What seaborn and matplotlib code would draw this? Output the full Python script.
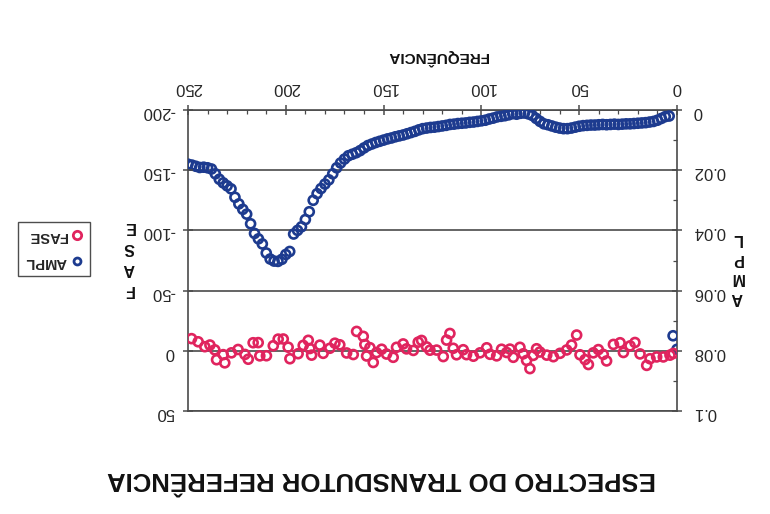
import matplotlib
matplotlib.use("Agg")
import matplotlib.pyplot as plt
from matplotlib.lines import Line2D
from matplotlib.ticker import MultipleLocator
import seaborn as sns

# ---- data -------------------------------------------------------------
# amplitude spectrum, sampled every 2 Hz from 0 to 250 Hz
ampl_freq = list(range(0, 251, 2))
ampl_vals = [
    0.0795, 0.0750,
    0.0020, 0.0022, 0.0028, 0.0034, 0.0038, 0.0040, 0.0042, 0.0043, 0.0044, 0.0045,
    0.0046, 0.0046, 0.0047, 0.0048, 0.0047, 0.0048, 0.0049, 0.0048, 0.0049, 0.0050,
    0.0050, 0.0051, 0.0052, 0.0054, 0.0057, 0.0060, 0.0062, 0.0062, 0.0060, 0.0057,
    0.0053, 0.0049, 0.0046, 0.0038, 0.0028, 0.0018, 0.0013, 0.0010, 0.0011, 0.0014,
    0.0012, 0.0016, 0.0019, 0.0021, 0.0023, 0.0027, 0.0030, 0.0034, 0.0036, 0.0038,
    0.0040, 0.0041, 0.0043, 0.0044, 0.0045, 0.0047, 0.0048, 0.0051, 0.0053, 0.0055,
    0.0057, 0.0058, 0.0060, 0.0062, 0.0066, 0.0071, 0.0075, 0.0079, 0.0083, 0.0086,
    0.0089, 0.0093, 0.0096, 0.0100, 0.0104, 0.0108, 0.0113, 0.0118, 0.0126, 0.0135,
    0.0142, 0.0147, 0.0152, 0.0163, 0.0176, 0.0192, 0.0212, 0.0232, 0.0246, 0.0261,
    0.0278, 0.0300, 0.0338, 0.0364, 0.0388, 0.0400, 0.0412, 0.0470, 0.0480, 0.0496,
    0.0503, 0.0502, 0.0495, 0.0475, 0.0445, 0.0428, 0.0410, 0.0378, 0.0346, 0.0330,
    0.0312, 0.0290, 0.0262, 0.0252, 0.0242, 0.0230, 0.0212, 0.0196, 0.0192, 0.0190,
    0.0191, 0.0187, 0.0183, 0.0180,
]

# phase spectrum (degrees)
fase_freq = [
    248.2, 244.8, 241.4, 238.8, 236.3, 235.4, 232.0, 231.2, 227.8, 224.4,
    220.9, 219.2, 216.7, 214.1, 213.3, 209.9, 206.4, 203.9, 201.3, 198.8,
    197.9, 193.7, 191.1, 188.5, 187.7, 186.8, 182.6, 180.9, 177.5, 174.9,
    172.4, 168.9, 165.5, 163.8, 160.4, 159.6, 158.7, 157.0, 155.3, 153.6,
    151.0, 148.5, 145.1, 143.4, 140.0, 138.3, 134.8, 132.3, 130.6, 128.0,
    126.3, 122.9, 119.5, 117.8, 116.1, 114.4, 112.7, 109.3, 107.6, 104.1,
    100.7, 97.3, 95.6, 92.2, 89.7, 87.1, 85.4, 83.7, 80.3, 78.6,
    76.9, 75.2, 73.5, 71.8, 70.1, 66.6, 63.2, 59.8, 56.4, 53.9,
    51.3, 49.6, 47.0, 45.3, 42.8, 40.2, 37.7, 36.0, 32.5, 29.1,
    27.4, 24.0, 21.5, 18.9, 15.5, 13.8, 10.4, 7.0, 3.6, 1.9,
]
fase_vals = [
    -10.1, -7.5, -3.4, -4.8, -0.8, 7.4, 3.2, 10.0, 1.7, -1.1,
    3.0, 7.0, -6.7, -6.8, 4.2, 4.1, -4.2, -9.7, -9.8, -3.0,
    6.6, 2.4, -4.5, -8.7, -1.9, 3.6, -4.7, 2.1, -2.1, -6.3,
    -5.0, 1.8, 3.1, -16.1, -12.0, -5.2, 4.3, -2.6, 9.7, 1.5,
    -1.3, 2.7, 5.4, -2.9, -5.7, -1.6, -0.3, -7.2, -8.6, -3.2,
    -0.5, -0.6, 4.8, -8.9, -14.4, -2.1, 3.3, -0.9, 3.2, 4.5,
    1.7, -2.5, 2.9, 4.2, -1.3, 1.4, -1.4, 5.4, -2.9, 2.5,
    8.0, 14.8, 3.8, -1.7, 1.0, 3.6, 4.9, 2.1, -0.7, -4.8,
    -13.1, 3.3, 7.3, 11.4, 1.7, -1.0, 3.0, 8.4, -5.3, -6.7,
    1.4, -4.1, -6.9, 2.6, 12.1, 6.6, 5.1, 5.1, 3.6, 2.2,
]

freq_ticks = [0, 50, 100, 150, 200, 250]
ampl_ticks = [0, 0.02, 0.04, 0.06, 0.08, 0.1]
ampl_tick_labels = ["0", "0.02", "0.04", "0.06", "0.08", "0.1"]
fase_ticks = [50, 0, -50, -100, -150, -200]
fase_tick_labels = ["50", "0", "-50", "-100", "-150", "-200"]

title = "ESPECTRO DO TRANSDUTOR REFERÊNCIA"
x_label = "FREQUÊNCIA"
ampl_label = "AMPL"
fase_label = "FASE"

# ---- style ------------------------------------------------------------
sns.set_theme(style="white")
plt.rcParams["font.family"] = ["Liberation Sans", "DejaVu Sans"]

BLUE = "#1d3b8f"
RED = "#e0245e"
AXC = "#4a4a4a"
TICK_FS = 12

W, H = 770, 514
fig = plt.figure(figsize=(W / 100, H / 100), dpi=100)
fig.patch.set_facecolor("white")

# the sheet is printed upside down: every axis is reversed and every text turned 180 degrees
left, right, top, bottom = 188, 677, 110, 411
ax = fig.add_axes([left / W, 1 - bottom / H, (right - left) / W, (bottom - top) / H])
ax.set_facecolor("none")
axf = ax.twinx()  # phase on its own scale, sharing the frequency axis

sns.scatterplot(x=ampl_freq, y=ampl_vals, ax=ax, s=42, marker="o",
                facecolor="none", edgecolor=BLUE, linewidth=1.9, zorder=3)
sns.scatterplot(x=fase_freq, y=fase_vals, ax=axf, s=42, marker="o",
                facecolor="none", edgecolor=RED, linewidth=1.9, zorder=3)

# frequency axis along the top, running right to left
ax.set_xlim(250, 0)
ax.xaxis.tick_top()
ax.set_xticks(freq_ticks)
ax.set_xticklabels([str(t) for t in freq_ticks])
ax.xaxis.set_minor_locator(MultipleLocator(10))
ax.tick_params(axis="x", which="major", direction="inout", length=7, width=1.1,
               color=AXC, labelsize=TICK_FS, labelrotation=180, pad=7,
               top=True, bottom=False, labeltop=True, labelbottom=False)
ax.tick_params(axis="x", which="minor", direction="in", length=3, width=0.9,
               color=AXC, top=True, bottom=False)

# amplitude scale on the right
ax.set_ylim(0.1, 0)
ax.yaxis.tick_right()
ax.yaxis.set_label_position("right")
ax.set_yticks(ampl_ticks)
ax.set_yticklabels(ampl_tick_labels)
ax.yaxis.set_minor_locator(MultipleLocator(0.01))
ax.tick_params(axis="y", which="major", direction="inout", length=7, width=1.1,
               color=AXC, labelsize=TICK_FS, labelrotation=180, pad=8,
               right=True, left=False, labelright=True, labelleft=False)
ax.tick_params(axis="y", which="minor", direction="in", length=3, width=0.9,
               color=AXC, right=True, left=False)
ax.yaxis.grid(True, color=AXC, lw=1.2)
ax.xaxis.grid(False)
ax.set_xlabel("")
ax.set_ylabel("")
for sp in ax.spines.values():
    sp.set_visible(True)
    sp.set_color(AXC)
    sp.set_linewidth(1.2)

# phase scale on the left
axf.set_ylim(50, -200)
axf.yaxis.tick_left()
axf.yaxis.set_label_position("left")
axf.set_yticks(fase_ticks)
axf.set_yticklabels(fase_tick_labels)
axf.tick_params(axis="y", which="major", direction="inout", length=7, width=1.1,
                color=AXC, labelsize=TICK_FS, labelrotation=180, pad=6,
                left=True, right=False, labelleft=True, labelright=False)
axf.tick_params(axis="x", which="both", top=False, bottom=False,
                labeltop=False, labelbottom=False)
axf.set_ylabel("")
axf.grid(False)
for sp in axf.spines.values():
    sp.set_visible(False)

# titles and axis names
tkw = dict(rotation=180, ha="center", va="center", fontweight="bold", color="#111111")
fig.text(381 / W, 1 - 479 / H, title, fontsize=18.5, **tkw)
fig.text(438 / W, 1 - 57 / H, x_label, fontsize=11, **tkw)
fig.text(129 / W, 1 - 258 / H, "\n".join(fase_label), fontsize=11.5, linespacing=1.5, **tkw)
fig.text(737 / W, 1 - 268 / H, "\n".join(ampl_label), fontsize=11.5, linespacing=1.4, **tkw)

# legend
handles = [
    Line2D([], [], ls="none", marker="o", ms=6, mfc="none", mec=RED, mew=2.0),
    Line2D([], [], ls="none", marker="o", ms=5, mfc="none", mec=BLUE, mew=2.0),
]
leg = fig.legend(handles, [fase_label, ampl_label], loc="center",
                 bbox_to_anchor=(54 / W, 1 - 249 / H), markerfirst=False,
                 frameon=True, fancybox=False, edgecolor="#222222",
                 fontsize=10.5, handlelength=0.8, handletextpad=0.3,
                 borderpad=0.5, labelspacing=0.8)
leg.get_frame().set_linewidth(1.0)
for t in leg.get_texts():
    t.set_rotation(180)
    t.set_fontweight("bold")

fig.savefig("out.png", dpi=100, facecolor="white")
